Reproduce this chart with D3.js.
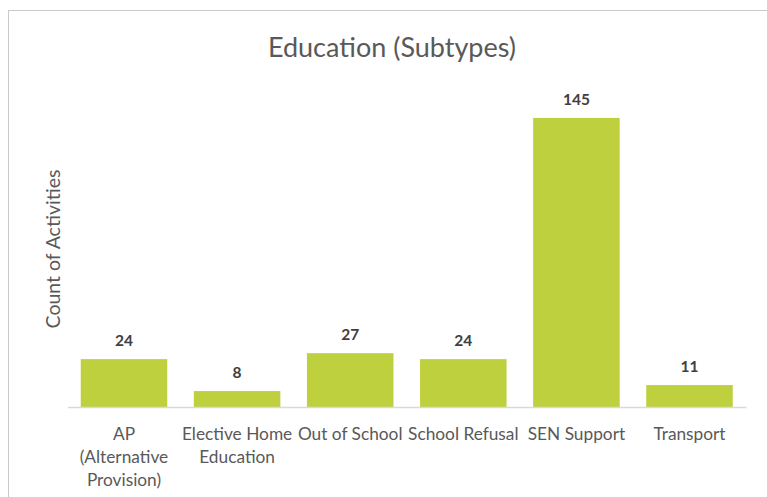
<!DOCTYPE html>
<html><head><meta charset="utf-8">
<script src="https://cdn.jsdelivr.net/npm/d3@7/dist/d3.min.js"></script>
<style>html,body{margin:0;padding:0;background:#fff;}svg{display:block;}</style>
</head><body>
<script>
const categories = ["AP (Alternative Provision)", "Elective Home Education", "Out of School", "School Refusal", "SEN Support", "Transport"];
const tickLabels = [["AP", "(Alternative", "Provision)"], ["Elective Home", "Education"], ["Out of School"], ["School Refusal"], ["SEN Support"], ["Transport"]];
const values = [24, 8, 27, 24, 145, 11];
const yDomain = [0, 160];

const W = 767, H = 497;
const font = "Lato, 'Open Sans', sans-serif";
const svg = d3.select("body").append("svg").attr("width", W).attr("height", H);

svg.append("rect").attr("x", 8.5).attr("y", 10.5).attr("width", W).attr("height", H)
  .attr("fill", "#fff").attr("stroke", "#c9c9c9").attr("stroke-width", 1);

const x = d3.scaleBand().domain(categories).range([67.5, 746]).paddingInner(0.235).paddingOuter(0.117);
const y = d3.scaleLinear().domain(yDomain).range([407, 88]);

svg.append("text").attr("x", 392).attr("y", 57).attr("text-anchor", "middle")
  .attr("font-family", font).attr("font-size", 27).attr("fill", "#595959").text("Education (Subtypes)");

svg.append("text").attr("transform", "translate(60,249) rotate(-90)").attr("text-anchor", "middle")
  .attr("font-family", font).attr("font-size", 19.5).attr("fill", "#595959").text("Count of Activities");

svg.selectAll("rect.bar").data(values).enter().append("rect").attr("class", "bar")
  .attr("x", (d, i) => x(categories[i])).attr("width", x.bandwidth())
  .attr("y", d => y(d)).attr("height", d => y(0) - y(d)).attr("fill", "#bed03e");

svg.selectAll("text.val").data(values).enter().append("text").attr("class", "val")
  .attr("x", (d, i) => x(categories[i]) + x.bandwidth() / 2).attr("y", d => y(d) - 13)
  .attr("text-anchor", "middle").attr("font-family", font).attr("font-size", 15.5).attr("font-weight", "bold")
  .attr("fill", "#404040").text(d => d);

const axis = d3.axisBottom(x).tickSize(0).tickFormat("");
const g = svg.append("g").attr("transform", `translate(0,${y(0)})`).call(axis);
g.select(".domain").attr("stroke", "#d9d9d9").attr("stroke-width", 1.3);

categories.forEach((c, i) => {
  const t = svg.append("text").attr("text-anchor", "middle").attr("font-family", font)
    .attr("font-size", 17.3).attr("fill", "#595959");
  tickLabels[i].forEach((line, j) => {
    t.append("tspan").attr("x", x(c) + x.bandwidth() / 2).attr("y", 440 + j * 22.8).text(line);
  });
});
</script>
</body></html>
